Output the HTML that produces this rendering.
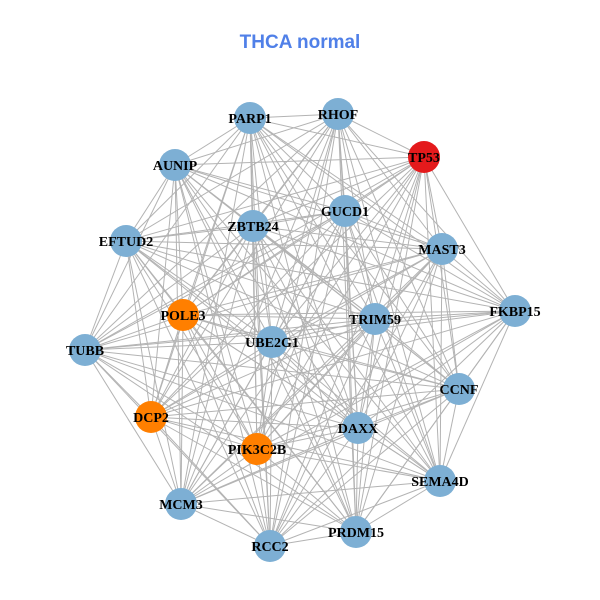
<!DOCTYPE html>
<html><head><meta charset="utf-8"><style>
html,body{margin:0;padding:0;background:#fff;}
svg{display:block;}
</style></head><body>
<svg id="s" width="600" height="600" xmlns="http://www.w3.org/2000/svg">
<text x="300" y="48" text-anchor="middle" font-family="Liberation Sans, sans-serif" font-weight="bold" font-size="19" fill="#5080E8">THCA normal</text>
<g id="e" stroke="#b3b3b3" stroke-width="1"></g>
<g id="n"></g>
</svg>
<script>
var N=[["PARP1",250,118,0],["RHOF",338,114,0],["TP53",424,157,2],["AUNIP",175,165,0],["GUCD1",345,211,0],["ZBTB24",253,226,0],["EFTUD2",126,241,0],["MAST3",442,249,0],["FKBP15",515,311,0],["POLE3",183,315,1],["TRIM59",375,319,0],["UBE2G1",272,342,0],["TUBB",85,350,0],["CCNF",459,389,0],["DCP2",151,417,1],["DAXX",358,428,0],["PIK3C2B",257,449,1],["SEMA4D",440,481,0],["MCM3",181,504,0],["PRDM15",356,532,0],["RCC2",270,546,0]];
var C=["#7DAFD4","#FF7F00","#E41A1C"];
var ns="http://www.w3.org/2000/svg",e=document.getElementById("e"),g=document.getElementById("n");
for(var i=0;i<N.length;i++)for(var j=i+1;j<N.length;j++){var l=document.createElementNS(ns,"line");l.setAttribute("x1",N[i][1]);l.setAttribute("y1",N[i][2]);l.setAttribute("x2",N[j][1]);l.setAttribute("y2",N[j][2]);e.appendChild(l);}
N.forEach(function(d){var c=document.createElementNS(ns,"circle");c.setAttribute("cx",d[1]);c.setAttribute("cy",d[2]);c.setAttribute("r",16);c.setAttribute("fill",C[d[3]]);g.appendChild(c);});
N.forEach(function(d){var t=document.createElementNS(ns,"text");t.setAttribute("x",d[1]);t.setAttribute("y",d[2]+5);t.setAttribute("text-anchor","middle");t.setAttribute("font-family","Liberation Serif, serif");t.setAttribute("font-weight","bold");t.setAttribute("font-size","14");t.setAttribute("fill","#000");t.textContent=d[0];g.appendChild(t);});
</script>
</body></html>
